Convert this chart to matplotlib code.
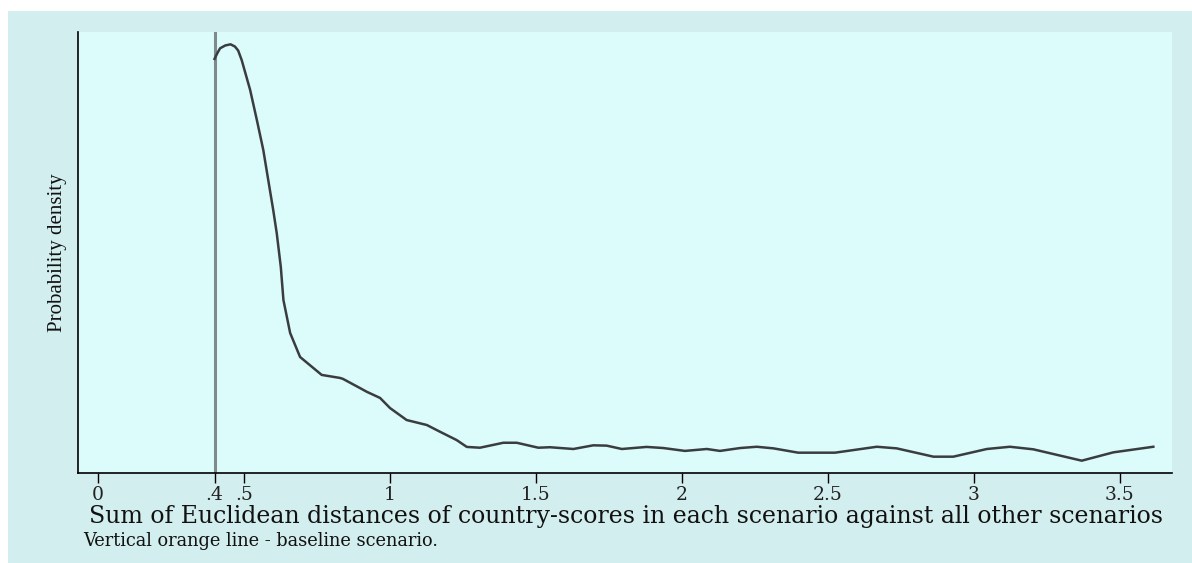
import numpy as np
import matplotlib
matplotlib.use("Agg")
import matplotlib.pyplot as plt
from matplotlib.patches import Rectangle

# kernel density (x = summed distance, y = density, arbitrary units)
dist = [0.400, 0.410, 0.419, 0.437, 0.455, 0.470, 0.481, 0.493, 0.522, 0.545,
        0.567, 0.584, 0.601, 0.613, 0.627, 0.636, 0.659, 0.693, 0.767, 0.830,
        0.840, 0.898, 0.921, 0.967, 1.001, 1.058, 1.127, 1.172, 1.229, 1.264,
        1.309, 1.389, 1.435, 1.509, 1.549, 1.629, 1.697, 1.743, 1.795, 1.880,
        1.937, 2.011, 2.086, 2.131, 2.200, 2.257, 2.314, 2.399, 2.525, 2.668,
        2.736, 2.862, 2.930, 3.045, 3.124, 3.204, 3.370, 3.478, 3.615]
dens = [2.588, 2.625, 2.654, 2.672, 2.679, 2.665, 2.640, 2.581, 2.394, 2.206,
        2.019, 1.831, 1.644, 1.500, 1.288, 1.081, 0.875, 0.725, 0.613, 0.594,
        0.588, 0.531, 0.508, 0.469, 0.406, 0.331, 0.300, 0.258, 0.206, 0.163,
        0.158, 0.189, 0.189, 0.158, 0.161, 0.150, 0.173, 0.171, 0.150, 0.163,
        0.156, 0.138, 0.150, 0.138, 0.156, 0.164, 0.154, 0.127, 0.127, 0.164,
        0.154, 0.102, 0.102, 0.150, 0.164, 0.148, 0.077, 0.129, 0.164]
baseline = 0.4
tick_vals = [0, 0.4, 0.5, 1, 1.5, 2, 2.5, 3, 3.5]
tick_labels = ["0", ".4", ".5", "1", "1.5", "2", "2.5", "3", "3.5"]

W, H = 1192, 563
fig = plt.figure(figsize=(W / 100, H / 100), dpi=100)
fig.patch.set_facecolor("white")
fig.patches.append(Rectangle((8 / W, 0), 1 - 8 / W, 1 - 11 / H, transform=fig.transFigure,
                             facecolor="#d3eeee", edgecolor="none", zorder=-1))

ax = fig.add_axes([78 / W, (H - 473) / H, (1172 - 78) / W, (473 - 32) / H])
ax.set_facecolor("#dcfbfb")
ax.plot(dist, dens, color="#3a3d3f", lw=1.8, zorder=3, solid_joinstyle="round")
ax.axvline(baseline, color="#7f8a8c", lw=2.2, zorder=2)
ax.set_xlim(-0.0675, 3.679)
ax.set_ylim(0, 2.756)

for s in ("top", "right"):
    ax.spines[s].set_visible(False)
ax.spines["left"].set_linewidth(1.2)
ax.spines["bottom"].set_linewidth(1.2)
ax.set_yticks([])
wide = "DejaVu Serif"
ax.set_xticks(tick_vals)
ax.set_xticklabels(tick_labels, fontfamily=wide, fontsize=13.5, color="#222222")
ax.tick_params(axis="x", length=7, width=1, pad=2)
fig.text(626 / W, 1 - 517 / H,
         "Sum of Euclidean distances of country-scores in each scenario against all other scenarios",
         fontfamily=wide, fontsize=17, color="#111111", ha="center", va="center")
ax.set_ylabel("Probability density", fontfamily="Liberation Serif", fontsize=15,
              color="#111111", labelpad=8)
fig.text(83 / W, 1 - 541 / H, "Vertical orange line - baseline scenario.",
         fontfamily=wide, fontsize=12.8, color="#111111", va="center", ha="left")

fig.savefig("out.png", dpi=100)
